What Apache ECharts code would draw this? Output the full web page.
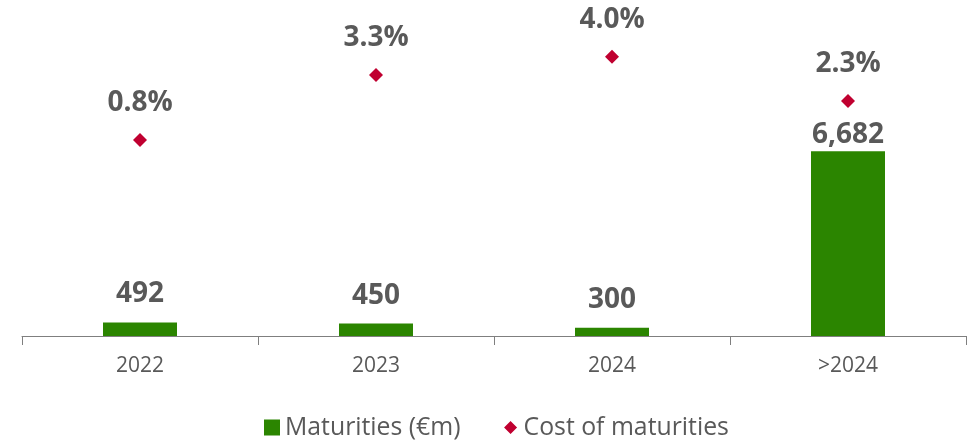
<!DOCTYPE html>
<html>
<head>
<meta charset="utf-8">
<script src="https://cdn.jsdelivr.net/npm/echarts@6/dist/echarts.min.js"></script>
<style>html,body{margin:0;padding:0;background:#fff}#c{width:974px;height:442px}</style>
</head>
<body>
<div id="c"></div>
<script>
const categories = ['2022', '2023', '2024', '>2024'];
const maturities = [492, 450, 300, 6682];
const costOfMaturities = [0.8, 3.3, 4.0, 2.3];

const FONT = 'Open Sans';
const TXT = '#595959';

const chart = echarts.init(document.getElementById('c'), null, {renderer: 'canvas'});
chart.setOption({
  animation: false,
  backgroundColor: '#ffffff',
  textStyle: {fontFamily: FONT},
  grid: {left: 22, right: 8, top: 4, bottom: 106},
  legend: {
    bottom: 2,
    left: 264,
    padding: 0,
    itemGap: 42,
    itemWidth: 16,
    itemHeight: 16,
    textStyle: {fontFamily: FONT, fontSize: 24.8, color: TXT},
    data: [
      {name: 'Maturities (€m)', icon: 'rect'},
      {name: 'Cost of maturities', icon: 'path://M0,0L0.01,0M16,16L15.99,16M8,1.5L14.5,8L8,14.5L1.5,8Z'}
    ]
  },
  xAxis: {
    type: 'category',
    data: categories,
    boundaryGap: true,
    axisLine: {lineStyle: {color: '#7f7f7f', width: 1}},
    axisTick: {show: true, length: 9, lineStyle: {color: '#7f7f7f'}},
    axisLabel: {fontFamily: FONT, fontSize: 21, color: TXT, margin: 20}
  },
  yAxis: [
    {type: 'value', min: 0, max: 12000, show: false, splitLine: {show: false}},
    {type: 'value', min: -6.74, max: 6.03, show: false, splitLine: {show: false}}
  ],
  series: [
    {
      name: 'Maturities (€m)',
      type: 'bar',
      yAxisIndex: 0,
      barWidth: 74,
      itemStyle: {color: '#2B8500'},
      data: maturities.map((v, i) => ({
        value: v,
        label: {distance: i === 3 ? 2 : 14}
      })),
      label: {
        show: true,
        position: 'top',
        fontFamily: FONT,
        fontWeight: 'bold',
        fontSize: 28,
        color: TXT,
        formatter: p => p.value.toLocaleString('en-US')
      }
    },
    {
      name: 'Cost of maturities',
      type: 'scatter',
      yAxisIndex: 1,
      symbol: 'diamond',
      symbolSize: 14,
      itemStyle: {color: '#C00030', opacity: 1},
      data: costOfMaturities,
      label: {
        show: true,
        position: 'top',
        distance: 16,
        fontFamily: FONT,
        fontWeight: 'bold',
        fontSize: 28,
        color: TXT,
        opacity: 1,
        formatter: p => p.value.toFixed(1) + '%'
      }
    }
  ]
});
</script>
</body>
</html>
